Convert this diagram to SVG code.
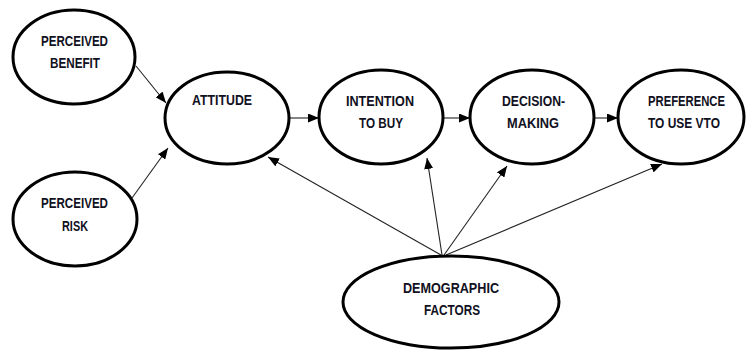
<svg xmlns="http://www.w3.org/2000/svg" width="751" height="350" viewBox="0 0 751 350">
<defs>
<style>
.node ellipse{fill:#fff;stroke:#000;stroke-width:3}
.node text{font-family:"Liberation Sans",Arial,sans-serif;font-weight:bold;font-size:15px;fill:#111122;text-anchor:middle}
.edge line{stroke:#222;stroke-width:1.1}
</style>
<marker id="ah" markerUnits="userSpaceOnUse" markerWidth="11" markerHeight="9" viewBox="0 0 11 9" refX="11" refY="4.5" orient="auto">
<path d="M0,0 L11,4.5 L0,9 Z" fill="#000"/>
</marker>
</defs>
<rect width="751" height="350" fill="#fff"/>
<g id="connectors" class="edge">
<line x1="136" y1="66" x2="166" y2="103" marker-end="url(#ah)"/>
<line x1="132" y1="198" x2="168" y2="148" marker-end="url(#ah)"/>
<line x1="290" y1="118" x2="319" y2="118" marker-end="url(#ah)"/>
<line x1="443" y1="118" x2="470" y2="118" marker-end="url(#ah)"/>
<line x1="595" y1="118" x2="618" y2="118" marker-end="url(#ah)"/>
<line x1="441" y1="255" x2="268" y2="157" marker-end="url(#ah)"/>
<line x1="442" y1="255" x2="427" y2="158" marker-end="url(#ah)"/>
<line x1="444" y1="255" x2="507" y2="166" marker-end="url(#ah)"/>
<line x1="446" y1="255" x2="662" y2="164" marker-end="url(#ah)"/>
</g>
<g id="perceived-benefit" class="node">
<ellipse cx="74" cy="57" rx="61" ry="47"/>
<text x="74.5" y="46" textLength="67" lengthAdjust="spacingAndGlyphs">PERCEIVED</text>
<text x="75" y="68" textLength="50" lengthAdjust="spacingAndGlyphs">BENEFIT</text>
</g>
<g id="perceived-risk" class="node">
<ellipse cx="75" cy="219" rx="62" ry="47"/>
<text x="74.5" y="208" textLength="67" lengthAdjust="spacingAndGlyphs">PERCEIVED</text>
<text x="75" y="231" textLength="26" lengthAdjust="spacingAndGlyphs">RISK</text>
</g>
<g id="attitude" class="node">
<ellipse cx="227" cy="118" rx="62" ry="46"/>
<text x="222" y="105" textLength="60" lengthAdjust="spacingAndGlyphs">ATTITUDE</text>
</g>
<g id="intention" class="node">
<ellipse cx="381" cy="117" rx="62" ry="47"/>
<text x="380" y="106" textLength="68" lengthAdjust="spacingAndGlyphs">INTENTION</text>
<text x="381" y="128" textLength="44" lengthAdjust="spacingAndGlyphs">TO BUY</text>
</g>
<g id="decision" class="node">
<ellipse cx="532" cy="117" rx="62" ry="47"/>
<text x="533.5" y="106" textLength="63" lengthAdjust="spacingAndGlyphs">DECISION-</text>
<text x="533" y="128" textLength="52" lengthAdjust="spacingAndGlyphs">MAKING</text>
</g>
<g id="preference" class="node">
<ellipse cx="681" cy="117" rx="63" ry="47"/>
<text x="686.5" y="106" textLength="77" lengthAdjust="spacingAndGlyphs">PREFERENCE</text>
<text x="684" y="128" textLength="72" lengthAdjust="spacingAndGlyphs">TO USE VTO</text>
</g>
<g id="demographic" class="node">
<ellipse cx="451" cy="302" rx="108" ry="46"/>
<text x="451" y="293" textLength="96" lengthAdjust="spacingAndGlyphs">DEMOGRAPHIC</text>
<text x="452" y="315" textLength="56" lengthAdjust="spacingAndGlyphs">FACTORS</text>
</g>
</svg>
